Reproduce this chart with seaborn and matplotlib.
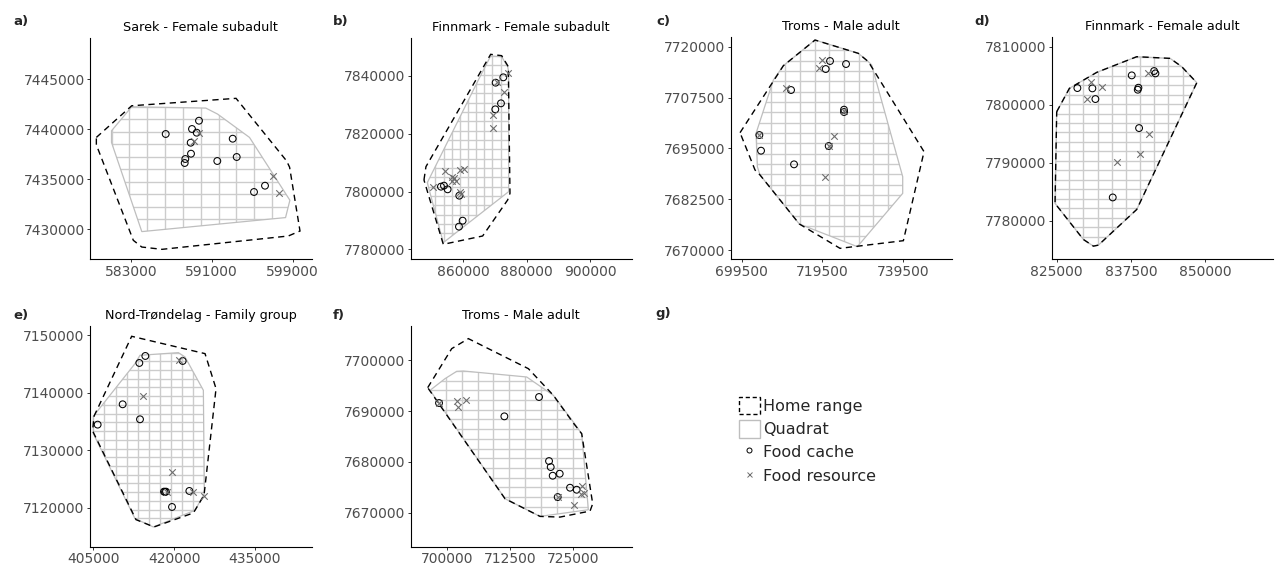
import numpy as np
import matplotlib
matplotlib.use("Agg")
import matplotlib.pyplot as plt
import seaborn as sns
from matplotlib.patches import Polygon, Rectangle
from matplotlib.lines import Line2D

# ---------------- data ----------------
titles = ["Sarek - Female subadult", "Finnmark - Female subadult", "Troms - Male adult",
          "Finnmark - Female adult", "Nord-Trøndelag - Family group", "Troms - Male adult"]
panel_labels = ["a)", "b)", "c)", "d)", "e)", "f)", "g)"]
legend_labels = ["Home range", "Quadrat", "Food cache", "Food resource"]

# a) Sarek
a_home_x = [579570, 583070, 593400, 598400, 598700, 599730, 598570, 586070, 584070, 583230, 579570]
a_home_y = [7439170, 7442330, 7443070, 7436830, 7436200, 7429830, 7429330, 7428000, 7428230, 7428900, 7438430]
a_quad_x = [581070, 583070, 590400, 591570, 594730, 598730, 598300, 584070, 581070]
a_quad_y = [7439830, 7442230, 7442100, 7441500, 7439170, 7432900, 7431170, 7429770, 7438670]
a_cache_x = [586435, 589039, 589732, 589504, 588910, 588940, 588376, 588316, 591544, 593068, 593464, 595177, 596266]
a_cache_y = [7439511, 7440010, 7440838, 7439641, 7438643, 7437545, 7437016, 7436617, 7436816, 7439042, 7437216, 7433723, 7434351]
a_res_x = [589267, 589702, 597028, 597682]
a_res_y = [7438812, 7439581, 7435319, 7433593]
a_xticks = [583000, 591000, 599000]
a_yticks = [7430000, 7435000, 7440000, 7445000]

# b) Finnmark female subadult
b_home_x = [847575, 848206, 868635, 872110, 874216, 874742, 874005, 866107, 853682]
b_home_y = [7804005, 7808611, 7847501, 7847039, 7843231, 7799379, 7797071, 7784608, 7781723]
b_quad_x = [848628, 864700, 868635, 872110, 874005, 874320, 874320, 853682]
b_quad_y = [7803072, 7838500, 7846924, 7846693, 7843231, 7841500, 7799956, 7782300]
b_cache_x = [870214, 872636, 871899, 870109, 852945, 853893, 855051, 858736, 858631, 859789]
b_cache_y = [7837692, 7839538, 7830537, 7828460, 7801687, 7802033, 7800764, 7798571, 7787839, 7789916]
b_res_x = [874216, 872847, 869477, 869266, 854209, 858947, 860316, 850523, 856315, 857157, 856315,
           857578, 858842, 859263, 870530]
b_res_y = [7841154, 7834576, 7826498, 7822113, 7807226, 7807457, 7807919, 7801687, 7805149, 7804572, 7803764,
           7803649, 7799956, 7799148, 7837807]
b_xticks = [860000, 880000, 900000]
b_yticks = [7780000, 7800000, 7820000, 7840000]

# c) Troms male adult
c_home_x = [699086, 709850, 717716, 728480, 730964, 744792, 739658, 723926, 713824, 704054, 702812]
c_home_y = [7698852, 7715328, 7721639, 7718361, 7716311, 7694179, 7672293, 7670408, 7676392, 7688442, 7689671]
c_quad_x = [707366, 703060, 703392, 704054, 713824, 728232, 739492, 739492, 731792, 730964, 728480, 717716, 709850]
c_quad_y = [7711803, 7698688, 7690491, 7688442, 7676392, 7670818, 7683933, 7688032, 7715492, 7716311, 7718361, 7721639, 7715328]
c_cache_x = [721442, 720366, 725416, 711754, 703888, 704302, 712500, 721111, 724920, 724920]
c_cache_y = [7716475, 7714508, 7715738, 7709344, 7698278, 7694425, 7691065, 7695573, 7704508, 7703934]
c_res_x = [719372, 718710, 710430, 722436, 720283, 703888, 721111, 724920]
c_res_y = [7716721, 7714672, 7709754, 7698033, 7688032, 7698278, 7695573, 7704262]
c_xticks = [699500, 719500, 739500]
c_yticks = [7670000, 7682500, 7695000, 7707500, 7720000]

# d) Finnmark female adult
d_home_x = [825000, 827136, 831744, 838488, 844108, 846075, 848604, 838488, 832025, 831182, 829496, 824719]
d_home_y = [7798788, 7802813, 7805573, 7808275, 7807988, 7806550, 7803790, 7781940, 7775788, 7775615, 7776765, 7782975]
d_quad_x = [825000, 827136, 831744, 838488, 844108, 846075, 848604, 838488, 832025, 831182, 829496, 824719]
d_quad_y = [7798788, 7802813, 7805573, 7808275, 7807988, 7806550, 7803790, 7781940, 7775788, 7775615, 7776765, 7782975]
d_cache_x = [828484, 831013, 831519, 837645, 838769, 838657, 838881, 841410, 841635, 834442]
d_cache_y = [7802870, 7802813, 7800973, 7805055, 7802928, 7802583, 7795970, 7805803, 7805400, 7784010]
d_res_x = [830732, 832699, 830058, 840343, 840624, 839050, 835172]
d_res_y = [7803848, 7802985, 7800973, 7805400, 7794878, 7791543, 7790048]
d_xticks = [825000, 837500, 850000]
d_yticks = [7780000, 7790000, 7800000, 7810000]

# e) Nord-Trøndelag family group
e_home_x = [405124, 412119, 425737, 427779, 425551, 423570, 416266, 412923, 404876]
e_home_y = [7135906, 7149826, 7146810, 7140720, 7122160, 7119086, 7116650, 7117926, 7133354]
e_quad_x = [405000, 412738, 413666, 420785, 422023, 425427, 425613, 423880, 416142, 412738, 405000]
e_quad_y = [7135906, 7145070, 7146520, 7146984, 7146230, 7140430, 7122450, 7119550, 7116650, 7118100, 7132890]
e_cache_x = [405805, 410447, 413542, 414656, 413666, 421589, 418123, 418309, 418494, 422827, 419608]
e_cache_y = [7134456, 7137994, 7145186, 7146404, 7135384, 7145534, 7122798, 7122740, 7122798, 7122914, 7120130]
e_res_x = [414161, 420970, 419547, 423570, 425551, 418618]
e_res_y = [7139444, 7145766, 7126220, 7122740, 7121986, 7122740]
e_xticks = [405000, 420000, 435000]
e_yticks = [7120000, 7130000, 7140000, 7150000]

# f) Troms male adult
f_home_x = [696249, 700987, 704277, 716121, 721056, 725004, 726649, 728820, 728294, 722372, 718424, 711515]
f_home_y = [7694615, 7702298, 7704269, 7698358, 7693105, 7687654, 7685553, 7671762, 7670317, 7669135, 7669267, 7672747]
f_quad_x = [696710, 699671, 701974, 703290, 715792, 721056, 725004, 726649, 727965, 718424, 711515]
f_quad_y = [7694090, 7696388, 7697833, 7697899, 7696717, 7693105, 7687851, 7685553, 7670580, 7669267, 7672747]
f_cache_x = [698487, 711383, 718227, 720201, 720530, 720924, 722306, 721911, 724346, 725662]
f_cache_y = [7691594, 7688967, 7692776, 7680168, 7678986, 7677278, 7677672, 7673075, 7674914, 7674520]
f_res_x = [702106, 702303, 703751, 726649, 726452, 727175, 725136, 721911, 698487]
f_res_y = [7691988, 7690806, 7692120, 7675177, 7673732, 7673929, 7671565, 7673075, 7691594]
f_xticks = [700000, 712500, 725000]
f_yticks = [7670000, 7680000, 7690000, 7700000]

panels = [
    (a_home_x, a_home_y, a_quad_x, a_quad_y, a_cache_x, a_cache_y, a_res_x, a_res_y, a_xticks, a_yticks),
    (b_home_x, b_home_y, b_quad_x, b_quad_y, b_cache_x, b_cache_y, b_res_x, b_res_y, b_xticks, b_yticks),
    (c_home_x, c_home_y, c_quad_x, c_quad_y, c_cache_x, c_cache_y, c_res_x, c_res_y, c_xticks, c_yticks),
    (d_home_x, d_home_y, d_quad_x, d_quad_y, d_cache_x, d_cache_y, d_res_x, d_res_y, d_xticks, d_yticks),
    (e_home_x, e_home_y, e_quad_x, e_quad_y, e_cache_x, e_cache_y, e_res_x, e_res_y, e_xticks, e_yticks),
    (f_home_x, f_home_y, f_quad_x, f_quad_y, f_cache_x, f_cache_y, f_res_x, f_res_y, f_xticks, f_yticks),
]

# ---------------- layout (pixels of a 1277x567 canvas) ----------------
W, H = 1277, 567
boxes_px = [(90, 311.7, 38.3, 259.3), (410.7, 631.7, 38.3, 259.3), (730.7, 951.7, 37.3, 259.3),
            (1051.7, 1273, 37.3, 259.3), (90, 311.7, 326.3, 547), (410.7, 631.7, 326.3, 547)]
limits = [((578941, 600889), (7427006, 7449062)),
          ((843389, 913181), (7776538, 7853052)),
          ((696768, 751664), (7667713, 7722311)),
          ((824157, 861447), (7773345, 7811621)),
          ((404387, 445535), (7113162, 7151566)),
          ((692894, 736519), (7663243, 7706698))]
grid_n = [(10, 10), (10, 20), (10, 20), (10, 20), (10, 20), (10, 15)]
label_px = [(13, 21), (333, 21), (656, 21), (974, 21), (13, 316), (333, 315), (655, 313)]

sns.set_theme(style="ticks")
plt.rcParams['font.family'] = ['DejaVu Sans']

HOME_COL = "black"
QUAD_COL = "#BEBEBE"
GRID_COL = "#CCCCCC"
RES_COL = "#6E6E6E"
TICK_COL = "#4D4D4D"
DASH = (0, (4.5, 3.2))

fig = plt.figure(figsize=(W / 100, H / 100), dpi=100)

for i, (hx, hy, qx, qy, cx, cy, rx, ry, xt, yt) in enumerate(panels):
    l, r, t, b = boxes_px[i]
    ax = fig.add_axes([l / W, 1 - b / H, (r - l) / W, (b - t) / H])
    ax.set_facecolor("white")

    # quadrat outline and clipped grid
    qpoly = Polygon(np.column_stack([qx, qy]), closed=True, fill=False,
                    edgecolor=QUAD_COL, lw=0.9, zorder=2)
    ax.add_patch(qpoly)
    nx, ny = grid_n[i]
    x0, x1 = min(qx), max(qx)
    y0, y1 = min(qy), max(qy)
    gx = np.linspace(x0, x1, nx + 1)
    gy = np.linspace(y0, y1, ny + 1)
    vl = ax.vlines(gx, y0, y1, colors=GRID_COL, lw=1.0, zorder=1)
    hl = ax.hlines(gy, x0, x1, colors=GRID_COL, lw=1.0, zorder=1)
    vl.set_clip_path(qpoly)
    hl.set_clip_path(qpoly)

    # home range
    hpoly = Polygon(np.column_stack([hx, hy]), closed=True, fill=False,
                    edgecolor=HOME_COL, lw=1.0, linestyle=DASH, zorder=3)
    ax.add_patch(hpoly)

    # points
    sns.scatterplot(x=cx, y=cy, marker="o", s=24, ax=ax, zorder=4, legend=False)
    coll = ax.collections[-1]
    coll.set_facecolor("none")
    coll.set_edgecolor("black")
    coll.set_linewidth(0.75)
    sns.scatterplot(x=rx, y=ry, marker="x", s=22, color=RES_COL, linewidth=0.8,
                    ax=ax, zorder=5, legend=False)

    ax.set_xlim(*limits[i][0])
    ax.set_ylim(*limits[i][1])
    ax.set_xticks(xt)
    ax.set_xticklabels([str(v) for v in xt])
    ax.set_yticks(yt)
    ax.set_yticklabels([str(v) for v in yt])
    ax.set_xlabel("")
    ax.set_ylabel("")
    for s in ["top", "right"]:
        ax.spines[s].set_visible(False)
    for s in ["left", "bottom"]:
        ax.spines[s].set_color("black")
        ax.spines[s].set_linewidth(0.8)
    ax.tick_params(axis="both", labelsize=10, colors="#333333", labelcolor=TICK_COL,
                   length=2.5, width=0.7, pad=1.3)
    ax.set_title(titles[i], fontsize=9.2, color="black", pad=5)

for lab, (px, py) in zip(panel_labels, label_px):
    fig.text(px / W, 1 - py / H, lab, fontsize=9.5, fontweight="bold", ha="left", va="center")

# legend in panel g
handles = [
    Rectangle((0, 0), 1, 1, facecolor="white", edgecolor=HOME_COL, lw=1.0, linestyle=(0, (3, 2))),
    Rectangle((0, 0), 1, 1, facecolor="white", edgecolor=QUAD_COL, lw=1.0),
    Line2D([], [], marker="o", linestyle="none", markerfacecolor="none", markeredgecolor="black",
           markersize=3.6, markeredgewidth=0.7),
    Line2D([], [], marker="x", linestyle="none", color=RES_COL, markersize=3.6, markeredgewidth=0.7),
]
fig.legend(handles, legend_labels, loc="upper left", bbox_to_anchor=(739 / W, 1 - 397 / H),
           frameon=False, fontsize=11.5, handlelength=1.3, handleheight=1.3,
           handletextpad=0.2, labelspacing=0.36, borderpad=0, borderaxespad=0)

fig.savefig("out.png", dpi=100, facecolor="white")
